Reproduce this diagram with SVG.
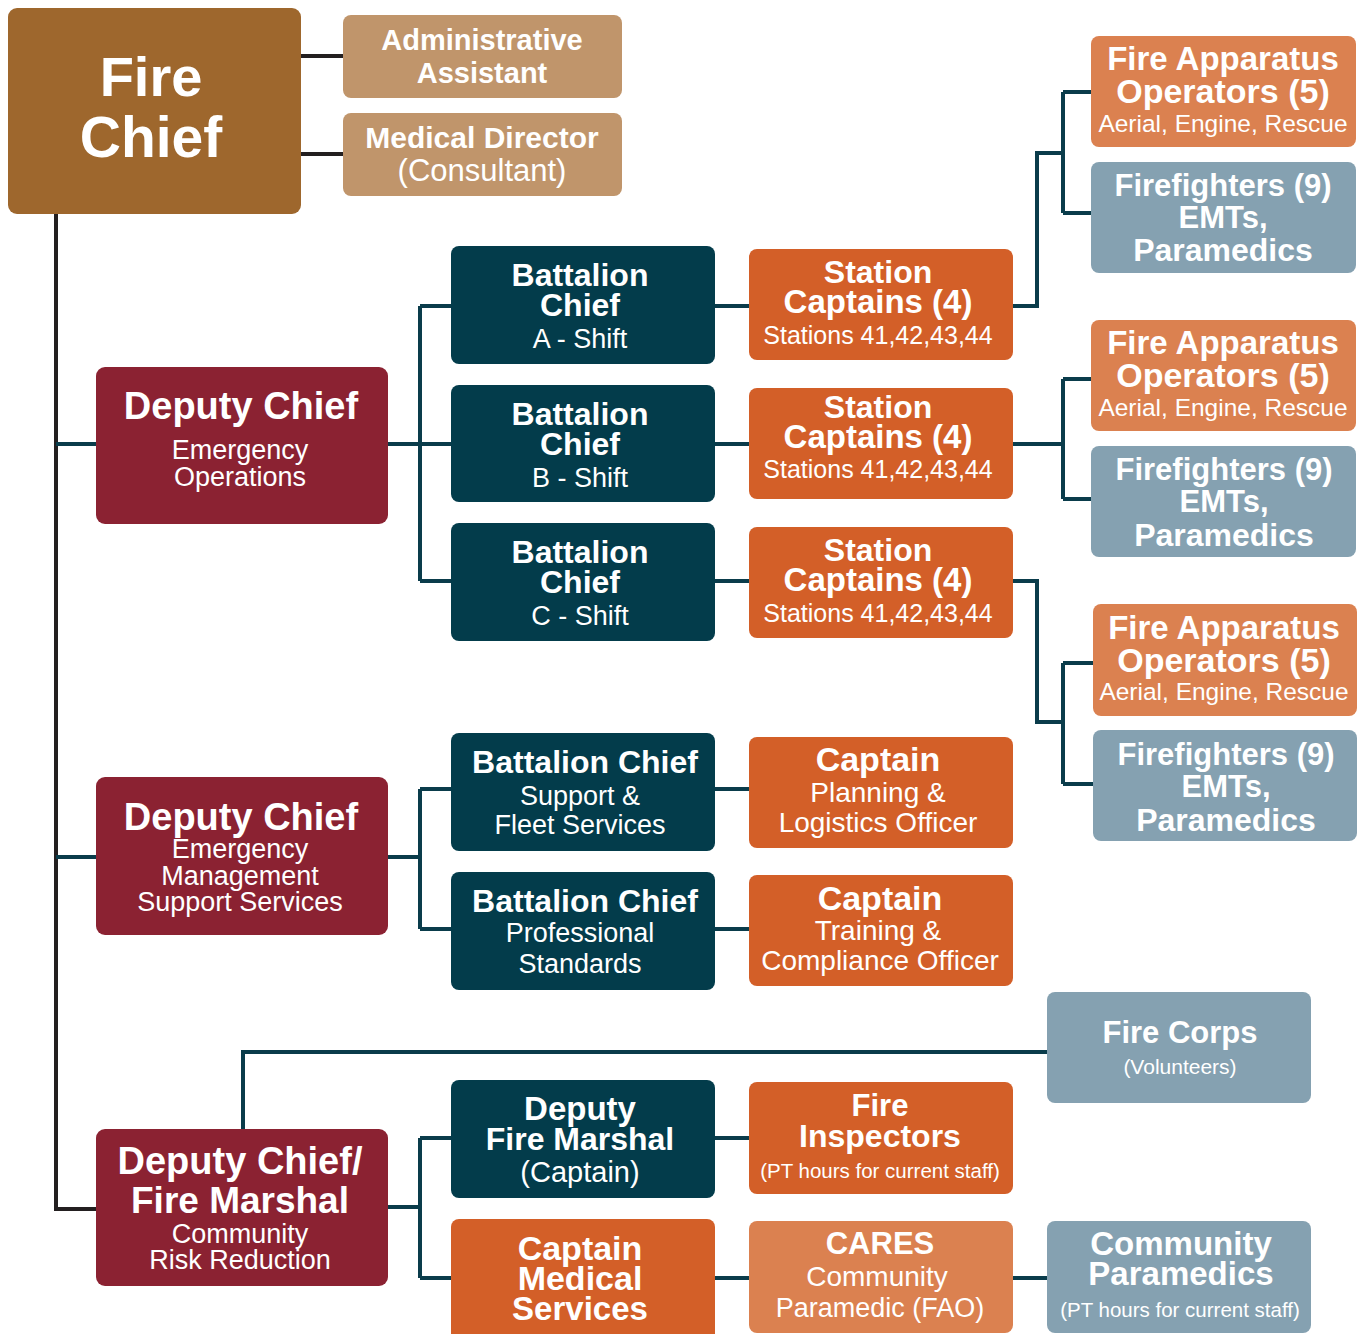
<svg xmlns="http://www.w3.org/2000/svg" width="1361" height="1334" viewBox="0 0 1361 1334">
<style>
text{font-family:"Liberation Sans",Arial,sans-serif;fill:#fff;text-anchor:middle}
.b{font-weight:bold}
.r{font-weight:normal}
.c{fill:none;stroke:#0A3C4B;stroke-width:4}
.k{fill:none;stroke:#231F20;stroke-width:4}
.chief{fill:#9E672D}
.tan{fill:#C0956B}
.dep{fill:#8B2232}
.teal{fill:#033C4B}
.org{fill:#D35F28}
.lorg{fill:#DB8150}
.blu{fill:#85A1B1}
</style>
<rect width="1361" height="1334" fill="#fff"/>
<g id="connectors">
<path class="k" d="M301 56H343M301 154H343M56 214V1209H96"/>
<path class="c" d="M56 444H96M56 857H96"/>
<path class="c" d="M388 444H420M420 306V581M420 306H451M420 444H451M420 581H451"/>
<path class="c" d="M715 306H749M715 444H749M715 581H749"/>
<path class="c" d="M1013 306H1037V153H1063M1063 92V213M1063 92H1091M1063 213H1091"/>
<path class="c" d="M1013 444H1063M1063 379V499M1063 379H1091M1063 499H1091"/>
<path class="c" d="M1013 581H1037V722H1063M1063 663V784M1063 663H1093M1063 784H1093"/>
<path class="c" d="M388 857H420M420 789V929M420 789H451M420 929H451"/>
<path class="c" d="M715 789H749M715 929H749"/>
<path class="c" d="M388 1207H420M420 1138V1278M420 1138H451M420 1278H451"/>
<path class="c" d="M715 1138H749M715 1278H749M1013 1278H1047"/>
<path class="c" d="M243 1129V1052H1047"/>
</g>
<g id="fire-chief"><rect class="chief" x="8" y="8" width="293" height="206" rx="9"/>
<text class="b" x="151" y="96" font-size="56">Fire</text><text class="b" x="151" y="157" font-size="57">Chief</text></g>
<g id="admin-assistant"><rect class="tan" x="343" y="15" width="279" height="83" rx="8"/>
<text class="b" x="482" y="50" font-size="29">Administrative</text><text class="b" x="482" y="83" font-size="29">Assistant</text></g>
<g id="medical-director"><rect class="tan" x="343" y="113" width="279" height="83" rx="8"/>
<text class="b" x="482" y="148" font-size="30">Medical Director</text><text class="r" x="482" y="181" font-size="31">(Consultant)</text></g>

<g id="deputy-chief-ops"><rect class="dep" x="96" y="367" width="292" height="157" rx="9"/>
<text class="b" x="241" y="419" font-size="38">Deputy Chief</text><text class="r" x="240" y="459" font-size="27">Emergency</text><text class="r" x="240" y="486" font-size="27">Operations</text></g>
<g id="deputy-chief-support"><rect class="dep" x="96" y="777" width="292" height="158" rx="9"/>
<text class="b" x="241" y="830" font-size="38">Deputy Chief</text><text class="r" x="240" y="858" font-size="27">Emergency</text><text class="r" x="240" y="885" font-size="27">Management</text><text class="r" x="240" y="911" font-size="27">Support Services</text></g>
<g id="deputy-chief-marshal"><rect class="dep" x="96" y="1129" width="292" height="157" rx="9"/>
<text class="b" x="240" y="1174" font-size="38">Deputy Chief/</text><text class="b" x="240" y="1213" font-size="37">Fire Marshal</text><text class="r" x="240" y="1243" font-size="27">Community</text><text class="r" x="240" y="1269" font-size="27">Risk Reduction</text></g>

<g id="bc-a"><rect class="teal" x="451" y="246" width="264" height="118" rx="8"/>
<text class="b" x="580" y="286" font-size="32">Battalion</text><text class="b" x="580" y="316" font-size="32">Chief</text><text class="r" x="580" y="348" font-size="27">A - Shift</text></g>
<g id="bc-b"><rect class="teal" x="451" y="385" width="264" height="117" rx="8"/>
<text class="b" x="580" y="425" font-size="32">Battalion</text><text class="b" x="580" y="455" font-size="32">Chief</text><text class="r" x="580" y="487" font-size="27">B - Shift</text></g>
<g id="bc-c"><rect class="teal" x="451" y="523" width="264" height="118" rx="8"/>
<text class="b" x="580" y="563" font-size="32">Battalion</text><text class="b" x="580" y="593" font-size="32">Chief</text><text class="r" x="580" y="625" font-size="27">C - Shift</text></g>
<g id="bc-support"><rect class="teal" x="451" y="733" width="264" height="118" rx="8"/>
<text class="b" x="585" y="773" font-size="32">Battalion Chief</text><text class="r" x="580" y="805" font-size="27">Support &amp;</text><text class="r" x="580" y="834" font-size="27">Fleet Services</text></g>
<g id="bc-professional"><rect class="teal" x="451" y="872" width="264" height="118" rx="8"/>
<text class="b" x="585" y="912" font-size="32">Battalion Chief</text><text class="r" x="580" y="942" font-size="27">Professional</text><text class="r" x="580" y="973" font-size="27">Standards</text></g>
<g id="deputy-fire-marshal"><rect class="teal" x="451" y="1080" width="264" height="118" rx="8"/>
<text class="b" x="580" y="1120" font-size="33">Deputy</text><text class="b" x="580" y="1150" font-size="32">Fire Marshal</text><text class="r" x="580" y="1182" font-size="29">(Captain)</text></g>
<g id="captain-medical"><rect class="org" x="451" y="1219" width="264" height="125" rx="8"/>
<text class="b" x="580" y="1260" font-size="34">Captain</text><text class="b" x="580" y="1290" font-size="34">Medical</text><text class="b" x="580" y="1320" font-size="33">Services</text></g>

<g id="sc-1"><rect class="org" x="749" y="249" width="264" height="111" rx="8"/>
<text class="b" x="878" y="283" font-size="32">Station</text><text class="b" x="878" y="313" font-size="33">Captains (4)</text><text class="r" x="878" y="344" font-size="25">Stations 41,42,43,44</text></g>
<g id="sc-2"><rect class="org" x="749" y="388" width="264" height="111" rx="8"/>
<text class="b" x="878" y="418" font-size="32">Station</text><text class="b" x="878" y="448" font-size="33">Captains (4)</text><text class="r" x="878" y="478" font-size="25">Stations 41,42,43,44</text></g>
<g id="sc-3"><rect class="org" x="749" y="527" width="264" height="111" rx="8"/>
<text class="b" x="878" y="561" font-size="32">Station</text><text class="b" x="878" y="591" font-size="33">Captains (4)</text><text class="r" x="878" y="622" font-size="25">Stations 41,42,43,44</text></g>
<g id="captain-planning"><rect class="org" x="749" y="737" width="264" height="111" rx="8"/>
<text class="b" x="878" y="771" font-size="34">Captain</text><text class="r" x="878" y="802" font-size="28">Planning &amp;</text><text class="r" x="878" y="832" font-size="28">Logistics Officer</text></g>
<g id="captain-training"><rect class="org" x="749" y="875" width="264" height="111" rx="8"/>
<text class="b" x="880" y="910" font-size="34">Captain</text><text class="r" x="878" y="940" font-size="28">Training &amp;</text><text class="r" x="880" y="970" font-size="28">Compliance Officer</text></g>
<g id="fire-inspectors"><rect class="org" x="749" y="1082" width="264" height="112" rx="8"/>
<text class="b" x="880" y="1116" font-size="31">Fire</text><text class="b" x="880" y="1147" font-size="32">Inspectors</text><text class="r" x="880" y="1178" font-size="20.5">(PT hours for current staff)</text></g>
<g id="cares"><rect class="lorg" x="749" y="1221" width="264" height="112" rx="8"/>
<text class="b" x="880" y="1254" font-size="31">CARES</text><text class="r" x="877" y="1286" font-size="28">Community</text><text class="r" x="880" y="1317" font-size="27">Paramedic (FAO)</text></g>

<g id="fao-1"><rect class="lorg" x="1091" y="36" width="265" height="111" rx="8"/>
<text class="b" x="1223" y="70" font-size="33">Fire Apparatus</text><text class="b" x="1223" y="103" font-size="34">Operators (5)</text><text class="r" x="1223" y="132" font-size="24.5">Aerial, Engine, Rescue</text></g>
<g id="ff-1"><rect class="blu" x="1091" y="162" width="265" height="111" rx="8"/>
<text class="b" x="1223" y="196" font-size="31">Firefighters (9)</text><text class="b" x="1223" y="228" font-size="31">EMTs,</text><text class="b" x="1223" y="261" font-size="32">Paramedics</text></g>
<g id="fao-2"><rect class="lorg" x="1091" y="320" width="265" height="111" rx="8"/>
<text class="b" x="1223" y="354" font-size="33">Fire Apparatus</text><text class="b" x="1223" y="387" font-size="34">Operators (5)</text><text class="r" x="1223" y="416" font-size="24.5">Aerial, Engine, Rescue</text></g>
<g id="ff-2"><rect class="blu" x="1091" y="446" width="265" height="111" rx="8"/>
<text class="b" x="1224" y="480" font-size="31">Firefighters (9)</text><text class="b" x="1224" y="512" font-size="31">EMTs,</text><text class="b" x="1224" y="546" font-size="32">Paramedics</text></g>
<g id="fao-3"><rect class="lorg" x="1093" y="604" width="264" height="112" rx="8"/>
<text class="b" x="1224" y="639" font-size="33">Fire Apparatus</text><text class="b" x="1224" y="672" font-size="34">Operators (5)</text><text class="r" x="1224" y="700" font-size="24.5">Aerial, Engine, Rescue</text></g>
<g id="ff-3"><rect class="blu" x="1093" y="730" width="264" height="111" rx="8"/>
<text class="b" x="1226" y="765" font-size="31">Firefighters (9)</text><text class="b" x="1226" y="797" font-size="31">EMTs,</text><text class="b" x="1226" y="831" font-size="32">Paramedics</text></g>
<g id="fire-corps"><rect class="blu" x="1047" y="992" width="264" height="111" rx="8"/>
<text class="b" x="1180" y="1043" font-size="31">Fire Corps</text><text class="r" x="1180" y="1074" font-size="21">(Volunteers)</text></g>
<g id="community-paramedics"><rect class="blu" x="1047" y="1221" width="264" height="112" rx="8"/>
<text class="b" x="1181" y="1255" font-size="33">Community</text><text class="b" x="1181" y="1285" font-size="33">Paramedics</text><text class="r" x="1180" y="1317" font-size="20.5">(PT hours for current staff)</text></g>
</svg>
